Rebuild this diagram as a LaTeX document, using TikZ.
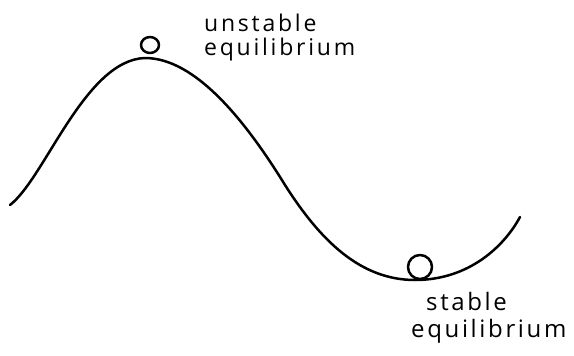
\documentclass[tikz,border=0pt]{standalone}
\usepackage{fontspec}
\setmainfont{Open Sans}
\tikzset{
  hand/.style={line width=2.5pt, line cap=round, line join=round},
  note/.style={align=left, inner sep=0pt, anchor=north west}
}
\begin{document}
\begin{tikzpicture}[x=1pt, y=-1pt]
    % Canvas (pixel frame)
    \useasboundingbox (0,0) rectangle (574,356);

    % Landscape (hill then valley)
    \draw[hand] (10,205) .. controls (45,178) and (85,60) .. (145,58)
        .. controls (195,58) and (245,120) .. (285,185)
        .. controls (320,240) and (360,280) .. (415,280)
        .. controls (470,280) and (505,245) .. (520,217);

    % Ball on the hill top
    \draw[hand] (150,45) circle[x radius=9, y radius=8];

    % Ball in the valley
    \draw[hand] (420,267) circle[radius=12];

    % Labels
    \node[note, font=\fontsize{23}{24}\selectfont\addfontfeature{LetterSpace=12}]
        (top) at (204,14) {unstable\\equilibrium};
    \node[note, font=\fontsize{24}{27}\selectfont\addfontfeature{LetterSpace=11}]
        (bottom) at (411,292) {\hspace*{15pt}stable\\equilibrium};
\end{tikzpicture}
\end{document}
